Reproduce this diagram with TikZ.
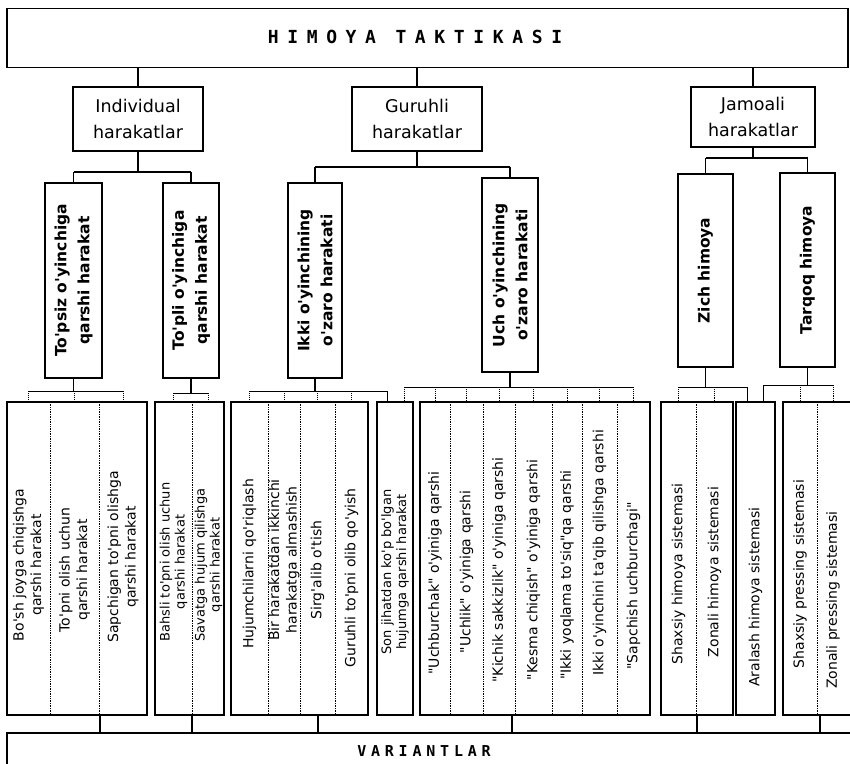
\documentclass[tikz,border=0pt]{standalone}
\usepackage{fontspec}
\newfontfamily\dvs{DejaVu Sans}
\newfontfamily\dvtitle[LetterSpace=48]{DejaVu Sans Mono}
\newfontfamily\dvvar[LetterSpace=32]{DejaVu Sans Mono}
\tikzset{
 main/.style={line width=1.6pt},
 bar/.style={line width=1pt},
 drop/.style={line width=0.9pt, densely dotted},
 div/.style={line width=0.7pt, densely dotted},
 topbox/.style={draw, line width=1.6pt, inner sep=0pt},
 l2box/.style={draw, line width=2pt, align=center, inner sep=0pt, font=\dvs\fontsize{17.5}{26}\selectfont},
 l3box/.style={draw, line width=2.4pt, inner sep=0pt},
 l3text/.style={rotate=90, align=center, inner sep=0pt, font=\dvs\bfseries\fontsize{15.5}{23}\selectfont},
 grp/.style={draw, line width=2.6pt, inner sep=0pt, minimum height=313pt},
 leaf/.style={rotate=90, align=center, inner sep=0pt, font=\dvs\fontsize{14}{17.5}\selectfont},
 tightleaf/.style={leaf, font=\dvs\fontsize{13}{15}\selectfont},
}
\begin{document}
\begin{tikzpicture}[x=1pt,y=-1pt]
\useasboundingbox (0,0) rectangle (850,763);
\clip (0,0) rectangle (850,763);
\fill[white] (0,0) rectangle (850,763);

% top
\node[topbox, minimum width=841pt, minimum height=59pt] (top) at (427.5,38) {};
\node[font=\dvtitle\bfseries\fontsize{18}{20}\selectfont] (title) at (415,37) {HIMOYA TAKTIKASI};

% level 2
\node[l2box, minimum width=130pt, minimum height=64pt] (ind) at (138,119) {Individual\\harakatlar};
\node[l2box, minimum width=130pt, minimum height=64pt] (gur) at (417,119) {Guruhli\\harakatlar};
\node[l2box, minimum width=124pt, minimum height=60pt] (jam) at (753,117) {Jamoali\\harakatlar};
\draw[main] (ind.north) -- (ind.north |- top.south);
\draw[main] (gur.north) -- (gur.north |- top.south);
\draw[main] (jam.north) -- (jam.north |- top.south);

% level 3
\node[l3box, minimum width=57pt, minimum height=195pt] (a1) at (73.5,280.5) {};
\node[l3text] (a1t) at (a1) {To'psiz o'yinchiga\\qarshi harakat};
\node[l3box, minimum width=56pt, minimum height=195pt] (a2) at (191,280.5) {};
\node[l3text] (a2t) at (a2) {To'pli o'yinchiga\\qarshi harakat};
\node[l3box, minimum width=54pt, minimum height=195pt] (a3) at (315,280.5) {};
\node[l3text] (a3t) at (a3) {Ikki o'yinchining\\o'zaro harakati};
\node[l3box, minimum width=56pt, minimum height=194pt] (a4) at (510,275) {};
\node[l3text] (a4t) at (a4) {Uch o'yinchining\\o'zaro harakati};
\node[l3box, minimum width=55pt, minimum height=193pt] (a5) at (705.5,270.5) {};
\node[l3text] (a5t) at (a5) {Zich himoya};
\node[l3box, minimum width=55pt, minimum height=194pt] (a6) at (807.5,270) {};
\node[l3text] (a6t) at (a6) {Tarqoq himoya};

\coordinate (ib) at (0,172);
\coordinate (gb) at (0,167);
\coordinate (jb) at (0,158);
\draw[main] (ind.south) -- (ind.south |- ib);
\draw[main] (a1.north |- ib) -- (a2.north |- ib);
\draw[main] (a1.north |- ib) -- (a1.north);
\draw[main] (a2.north |- ib) -- (a2.north);
\draw[main] (gur.south) -- (gur.south |- gb);
\draw[main] (a3.north |- gb) -- (a4.north |- gb);
\draw[main] (a3.north |- gb) -- (a3.north);
\draw[main] (a4.north |- gb) -- (a4.north);
\draw[main] (jam.south) -- (jam.south |- jb);
\draw[main] (a5.north |- jb) -- (a6.north |- jb);
\draw[main] (a5.north |- jb) -- (a5.north);
\draw[main] (a6.north |- jb) -- (a6.north);

% level 4 group boxes
\node[grp, minimum width=140pt] (g1) at (77,558.5) {};
\node[grp, minimum width=69pt] (g2) at (189.5,558.5) {};
\node[grp, minimum width=137pt] (g3) at (299.5,558.5) {};
\node[grp, minimum width=36pt] (g4) at (395,558.5) {};
\node[grp, minimum width=230pt] (g5) at (535,558.5) {};
\node[grp, minimum width=72pt] (g6) at (697,558.5) {};
\node[grp, minimum width=39pt] (g7) at (755.5,558.5) {};
\node[grp, minimum width=87pt] (g8) at (826.5,558.5) {};

% dividers
\foreach \x in {50,99,192,268,300,335,450,483,515,552,582,617,696,817}
  \draw[div] (\x,402) -- (\x,715);

% leaves
\node[leaf] (t11) at (28.5,565) {Bo'sh joyga chiqishga\\qarshi harakat};
\node[leaf] (t12) at (74.5,570) {To'pni olish uchun\\qarshi harakat};
\node[leaf] (t13) at (123,557) {Sapchigan to'pni olishga\\qarshi harakat};
\node[tightleaf] (t21) at (173.5,562) {Bahsli to'pni olish uchun\\qarshi harakat};
\node[tightleaf] (t22) at (208.5,565) {Savatga hujum qilishga\\qarshi harakat};
\node[leaf] (t31) at (249.5,564) {Hujumchilarni qo'riqlash};
\node[leaf] (t32) at (284,560) {Bir harakatdan ikkinchi\\harakatga almashish};
\node[leaf] (t33) at (317.5,570) {Sirg'alib o'tish};
\node[leaf] (t34) at (351.5,578) {Guruhli to'pni olib qo'yish};
\node[tightleaf] (t4) at (395,572) {Son jihatdan ko'p bo'lgan\\hujumga qarshi harakat};
\node[leaf] (t51) at (435,573) {"Uchburchak" o'yiniga qarshi};
\node[leaf] (t52) at (466.5,572) {"Uchlik" o'yiniga qarshi};
\node[leaf] (t53) at (499,570) {"Kichik sakkizlik" o'yiniga qarshi};
\node[leaf] (t54) at (533.5,570) {"Kesma chiqish" o'yiniga qarshi};
\node[leaf] (t55) at (567,575) {"Ikki yoqlama to'siq"qa qarshi};
\node[leaf] (t56) at (599.5,553) {Ikki o'yinchini ta'qib qilishga qarshi};
\node[leaf] (t57) at (633.5,586) {"Sapchish uchburchagi"};
\node[leaf] (t61) at (678.5,574) {Shaxsiy himoya sistemasi};
\node[leaf] (t62) at (714.5,572) {Zonali himoya sistemasi};
\node[leaf] (t7) at (755.5,597) {Aralash himoya sistemasi};
\node[leaf] (t81) at (800,574) {Shaxsiy pressing sistemasi};
\node[leaf] (t82) at (833,600) {Zonali pressing sistemasi};

% junction points on shared boxes
\coordinate (sn1) at (387,402);
\coordinate (sn2) at (404,402);
\coordinate (ar1) at (747,402);
\coordinate (ar2) at (763,402);

% level 3 -> level 4 connectors
\coordinate (y1) at (0,391);
\draw[main] (a1.south) -- (a1.south |- y1);
\draw[bar] (t11 |- y1) -- (t13 |- y1);
\foreach \n in {t11,t12,t13} \draw[drop] (\n |- y1) -- (\n |- g1.north);

\coordinate (y2) at (0,393);
\draw[main] (a2.south) -- (a2.south |- y2);
\draw[bar] (t21 |- y2) -- (t22 |- y2);
\foreach \n in {t21,t22} \draw[drop] (\n |- y2) -- (\n |- g2.north);

\coordinate (y3) at (0,391);
\draw[main] (a3.south) -- (a3.south |- y3);
\draw[bar] (t31 |- y3) -- (sn1 |- y3);
\foreach \n in {t31,t32,t33,t34} \draw[drop] (\n |- y3) -- (\n |- g3.north);
\draw[bar] (sn1 |- y3) -- (sn1);

\coordinate (y4) at (0,387);
\draw[main] (a4.south) -- (a4.south |- y4);
\draw[bar] (sn2 |- y4) -- (t57 |- y4);
\draw[drop] (sn2 |- y4) -- (sn2);
\foreach \n in {t51,t52,t53,t54,t55,t56,t57} \draw[drop] (\n |- y4) -- (\n |- g5.north);

\coordinate (y5) at (0,387);
\draw[main] (a5.south) -- (a5.south |- y5);
\draw[bar] (t61 |- y5) -- (ar1 |- y5);
\foreach \n in {t61,t62} \draw[drop] (\n |- y5) -- (\n |- g6.north);
\draw[bar] (ar1 |- y5) -- (ar1);

\coordinate (y6) at (0,385);
\draw[main] (a6.south) -- (a6.south |- y6);
\draw[bar] (ar2 |- y6) -- (t82 |- y6);
\draw[bar] (ar2 |- y6) -- (ar2);
\foreach \n in {t81,t82} \draw[drop] (\n |- y6) -- (\n |- g8.north);

% bottom
\node[topbox, minimum width=860pt, minimum height=60pt] (var) at (437,763) {};
\node[font=\dvvar\bfseries\fontsize{15}{17}\selectfont] (vart) at (424,751) {VARIANTLAR};
\foreach \x/\n in {100/d1,192/d2,318/d3,512/d4,697/d5,820/d6} {
  \coordinate (\n) at (\x,715);
  \draw[main] (\n) -- (\n |- var.north);
}
\end{tikzpicture}
\end{document}
